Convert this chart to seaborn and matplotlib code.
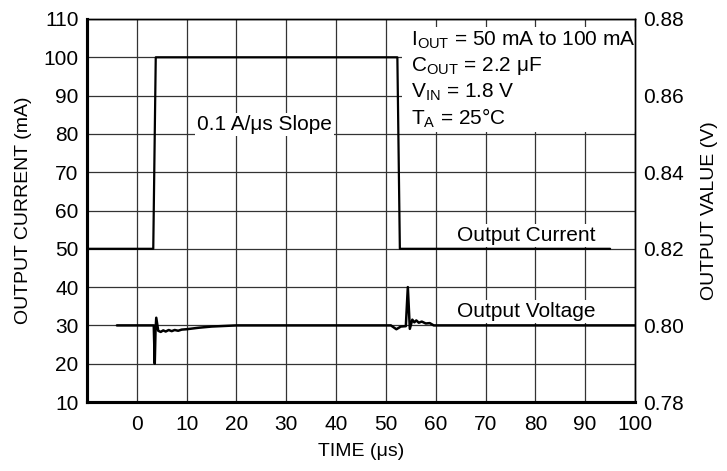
import pandas as pd
import seaborn as sns
import matplotlib
matplotlib.use('Agg')
import matplotlib.pyplot as plt
from matplotlib.patches import Rectangle

### data ###

# output current (mA) vs time (us)
cur_time = [-10, 3.3, 3.8, 52.3, 52.8, 95]
cur_ma = [50, 50, 100, 100, 50, 50]

# output voltage (V) vs time (us)
volt_time = [-4, 3.4, 3.6, 3.75, 3.9, 4.3, 4.8, 5.3, 5.8, 6.4, 7.0, 7.6, 8.3, 9.0, 10.0,
             12.5, 15.0, 20.0, 30.0, 40.0, 51.0, 52.1, 53.0, 54.0, 54.4, 54.8, 55.3,
             55.7, 56.1, 56.6, 57.2, 58.0, 58.8, 59.6, 70.0, 100.0]
volt_v = [0.800, 0.800, 0.790, 0.7985, 0.8020, 0.7986, 0.7983, 0.7987, 0.7984, 0.7988,
          0.7985, 0.7988, 0.7986, 0.7989, 0.7990,
          0.7994, 0.7997, 0.8000, 0.8000, 0.8000, 0.8000, 0.7990, 0.7997, 0.7998, 0.8100,
          0.7991, 0.8015, 0.8008, 0.8013, 0.8007, 0.8010, 0.8005, 0.8006, 0.8000, 0.8000, 0.8000]

x_ticks = [0, 10, 20, 30, 40, 50, 60, 70, 80, 90, 100]
ma_ticks = [10, 20, 30, 40, 50, 60, 70, 80, 90, 100, 110]
v_ticks = [0.78, 0.80, 0.82, 0.84, 0.86, 0.88]

cond_lines = [r'I$_{\mathregular{OUT}}$ = 50 mA to 100 mA',
              r'C$_{\mathregular{OUT}}$ = 2.2 μF',
              r'V$_{\mathregular{IN}}$ = 1.8 V',
              r'T$_{\mathregular{A}}$ = 25°C']

cur_df = pd.DataFrame({'time': cur_time, 'current': cur_ma})
volt_df = pd.DataFrame({'time': volt_time, 'voltage': volt_v})

sns.set_theme(style='white')
plt.rcParams['font.family'] = ['Liberation Sans', 'DejaVu Sans']
plt.rcParams['mathtext.fontset'] = 'custom'
plt.rcParams['mathtext.rm'] = 'Liberation Sans'
plt.rcParams['text.color'] = 'black'
fs = 15      # ticks and notes
lfs = 14     # axis titles

fig = plt.figure(figsize=(7.27, 4.71), dpi=100)
ax = fig.add_axes([87/727, 69/471, 548/727, 383/471])
ax2 = ax.twinx()

sns.lineplot(data=cur_df, x='time', y='current', ax=ax, color='black', lw=1.6,
             estimator=None, sort=False, zorder=3)
sns.lineplot(data=volt_df, x='time', y='voltage', ax=ax2, color='black', lw=1.8,
             estimator=None, sort=False)

ax.set_xlim(-10, 100)
ax.set_ylim(10, 110)
ax2.set_ylim(0.78, 0.88)

ax.set_xticks(x_ticks)
ax.set_yticks(ma_ticks)
ax2.set_yticks(v_ticks)
ax2.set_yticklabels(['%.2f' % v for v in v_ticks])

# grid
ax.set_axisbelow(True)
ax.grid(True, color='#333333', lw=0.9)

ax.tick_params(length=0, labelsize=fs, pad=6, colors='black')
ax.tick_params(axis='x', pad=9)
ax2.tick_params(length=0, labelsize=fs, pad=6, colors='black')

ax.set_xlabel('TIME (μs)', fontsize=lfs, color='black', labelpad=7)
ax.set_ylabel('OUTPUT CURRENT (mA)', fontsize=lfs, color='black', labelpad=8)
ax2.set_ylabel('OUTPUT VALUE (V)', fontsize=lfs, color='black', labelpad=12)

for a in (ax, ax2):
    for side in ['left', 'bottom']:
        a.spines[side].set_linewidth(2.2)
        a.spines[side].set_color('black')
    for side in ['top', 'right']:
        a.spines[side].set_linewidth(1.0)
        a.spines[side].set_color('black')

# white box behind the test conditions
ax.add_patch(Rectangle((53.2, 80.6), 46.7, 27.2, facecolor='white', edgecolor='none', zorder=1))
for i, line in enumerate(cond_lines):
    ax.text(55, 104.5 - i*6.8, line, fontsize=fs, va='center', ha='left', color='black', zorder=4)

box = dict(facecolor='white', edgecolor='none', pad=1.5)
ax.text(25.6, 82.5, '0.1 A/μs Slope', fontsize=fs, ha='center', va='center',
        color='black', bbox=box, zorder=4)
ax.text(64.3, 53.4, 'Output Current', fontsize=fs, ha='left', va='center',
        color='black', bbox=box, zorder=4)
ax.text(64.3, 33.6, 'Output Voltage', fontsize=fs, ha='left', va='center',
        color='black', bbox=box, zorder=4)

fig.savefig('out.png', dpi=100)
